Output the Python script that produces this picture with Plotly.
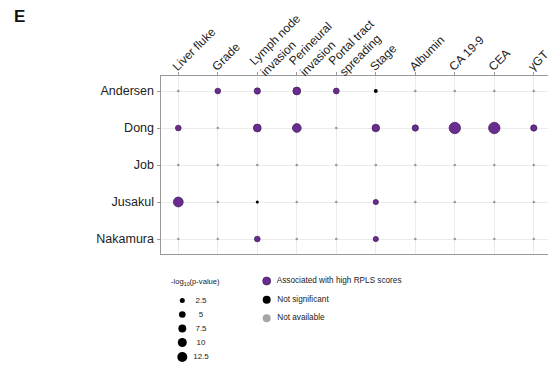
import plotly.graph_objects as go
import math

studies = ["Andersen", "Dong", "Job", "Jusakul", "Nakamura"]
variables = ["Liver fluke", "Grade", "Lymph node<br>invasion", "Perineural<br>invasion",
             "Portal tract<br>spreading", "Stage", "Albumin", "CA 19-9", "CEA", "γGT"]

# -log10(p-value); None = not available
andersen = [None, 3.4, 4.5, 7.3, 3.7, 1.2, None, None, None, None]
dong     = [3.5, None, 7.3, 9.5, None, 6.9, 4.5, 16.5, 16.5, 4.5]
job      = [None, None, None, None, None, None, None, None, None, None]
jusakul  = [12.0, None, 0.4, None, None, 2.8, None, None, None, None]
nakamura = [None, None, 3.5, None, None, 2.8, None, None, None, None]
values = [andersen, dong, job, jusakul, nakamura]

# status: H = associated with high RPLS scores, N = not significant, A = not available
status = [
    ["A", "H", "H", "H", "H", "N", "A", "A", "A", "A"],
    ["H", "A", "H", "H", "A", "H", "H", "H", "H", "H"],
    ["A", "A", "A", "A", "A", "A", "A", "A", "A", "A"],
    ["H", "A", "N", "A", "A", "H", "A", "A", "A", "A"],
    ["A", "A", "H", "A", "A", "H", "A", "A", "A", "A"],
]

size_breaks = [2.5, 5, 7.5, 10, 12.5]
size_labels = ["2.5", "5", "7.5", "10", "12.5"]
color_labels = ["Associated with high RPLS scores", "Not significant", "Not available"]

PURPLE = "#6A2C91"
BLACK = "#000000"
GRAY = "#A6A6A6"
FONT = "Liberation Sans, Arial, sans-serif"

W, H = 548, 365


def dsize(v):
    return math.sqrt(6.25 + 7.5 * v)


fig = go.Figure()

groups = {"A": ([], [], []), "N": ([], [], []), "H": ([], [], [])}
for i, st in enumerate(studies):
    for j, var in enumerate(variables):
        s = status[i][j]
        v = values[i][j]
        gx, gy, gs = groups[s]
        gx.append(j)
        gy.append(i)
        gs.append(2.6 if v is None else dsize(v))

fig.add_trace(go.Scatter(x=groups["A"][0], y=groups["A"][1], mode="markers",
                         marker=dict(size=groups["A"][2], color="#999999", opacity=1, line=dict(width=0)),
                         showlegend=False, xaxis="x", yaxis="y", hoverinfo="skip"))
fig.add_trace(go.Scatter(x=groups["N"][0], y=groups["N"][1], mode="markers",
                         marker=dict(size=groups["N"][2], color=BLACK, opacity=1, line=dict(width=0)),
                         showlegend=False, xaxis="x", yaxis="y", hoverinfo="skip"))
fig.add_trace(go.Scatter(x=groups["H"][0], y=groups["H"][1], mode="markers",
                         marker=dict(size=groups["H"][2], color=PURPLE, opacity=1,
                                     line=dict(width=0.7, color="#3a1a50")),
                         showlegend=False, xaxis="x", yaxis="y", hoverinfo="skip"))

# ---- legend drawn in a pixel-coordinate overlay axis ----
leg_y = [300.5, 314.5, 328.5, 342.5, 357]
fig.add_trace(go.Scatter(x=[182.3] * len(size_breaks), y=leg_y, mode="markers",
                         marker=dict(size=[dsize(v) for v in size_breaks], color=BLACK, opacity=1,
                                     line=dict(width=0)),
                         showlegend=False, xaxis="x2", yaxis="y2", cliponaxis=False, hoverinfo="skip"))
fig.add_trace(go.Scatter(x=[201] * len(size_breaks), y=leg_y, mode="text", text=size_labels,
                         textposition="middle center",
                         textfont=dict(size=8, color="#222222", family=FONT),
                         showlegend=False, xaxis="x2", yaxis="y2", cliponaxis=False, hoverinfo="skip"))

col_y = [281, 299.7, 318.3]
fig.add_trace(go.Scatter(x=[266.7] * 3, y=col_y, mode="markers+text",
                         marker=dict(size=8, color=[PURPLE, BLACK, GRAY], opacity=1,
                                     line=dict(width=[0.7, 0, 0], color="#3a1a50")),
                         text=["  " + t for t in color_labels], textposition="middle right",
                         textfont=dict(size=8.2, color="#222222", family=FONT),
                         showlegend=False, xaxis="x2", yaxis="y2", cliponaxis=False, hoverinfo="skip"))

x0_px, y0_px = 160.5, 76
x_right = 548
dx = 39.5
dy = 37
xr = [-(178.3 - x0_px) / dx, (x_right - 178.3) / dx]
yr = [4 + (254 - 239) / dy, -(91 - 76) / dy]

single_idx = [k for k, v in enumerate(variables) if "<br>" not in v]
multi_idx = [k for k, v in enumerate(variables) if "<br>" in v]

fig.update_layout(
    width=W, height=H,
    margin=dict(l=0, r=0, t=0, b=0),
    paper_bgcolor="white", plot_bgcolor="rgba(0,0,0,0)",
    font=dict(family=FONT, color="#222222"),
    xaxis=dict(domain=[x0_px / W, 1], range=xr, side="top",
               tickmode="array", tickvals=list(range(len(variables))),
               ticktext=[v if "<br>" not in v else "" for v in variables],
               tickangle=-45, tickfont=dict(size=12, color="#222222", family=FONT),
               ticklabeloverflow="allow", ticklabelstandoff=-6, ticklabelshift=-5,
               ticks="outside", ticklen=3, tickcolor="#999999", tickwidth=0.8,
               showline=True, linecolor="#999999", linewidth=1, mirror=True,
               showgrid=True, gridcolor="#EBEBEB", gridwidth=0.8, zeroline=False,
               automargin=False, anchor="y", fixedrange=True),
    xaxis3=dict(overlaying="x", range=xr, side="top",
                tickmode="array", tickvals=multi_idx,
                ticktext=[variables[k] for k in multi_idx],
                tickangle=-45, tickfont=dict(size=12, color="#222222", family=FONT),
                ticklabeloverflow="allow", ticklabelstandoff=-6, ticklabelshift=4,
                ticks="", showline=False, showgrid=False, zeroline=False,
                automargin=False, anchor="y", fixedrange=True),
    yaxis=dict(domain=[(H - 254) / H, (H - y0_px) / H], range=yr,
               tickmode="array", tickvals=list(range(len(studies))), ticktext=studies,
               tickfont=dict(size=12.5, color="#222222", family=FONT),
               ticks="outside", ticklen=3, tickcolor="#999999", tickwidth=0.8,
               showline=True, linecolor="#999999", linewidth=1, mirror=False,
               showgrid=True, gridcolor="#EBEBEB", gridwidth=0.8, zeroline=False,
               automargin=False, anchor="x", fixedrange=True),
    xaxis2=dict(domain=[0, 1], range=[0, W], visible=False, anchor="y2", fixedrange=True),
    yaxis2=dict(domain=[0, 1], range=[H, 0], visible=False, anchor="x2", fixedrange=True),
    annotations=[
        dict(x=12, y=16, xref="x2", yref="y2", text="<b>E</b>", showarrow=False,
             xanchor="left", yanchor="middle", font=dict(size=17, color="#111111", family=FONT)),
        dict(x=168.5, y=282, xref="x2", yref="y2", text="-log<sub>10</sub>(p-value)", showarrow=False,
             xanchor="left", yanchor="middle", font=dict(size=7.6, color="#222222", family=FONT)),
    ],
)

# dummy invisible trace so the overlay axis x3 is rendered
fig.add_trace(go.Scatter(x=multi_idx, y=[0] * len(multi_idx), mode="markers",
                         marker=dict(size=1, opacity=0), xaxis="x3", yaxis="y",
                         showlegend=False, hoverinfo="skip"))

fig.write_html("out.html")
